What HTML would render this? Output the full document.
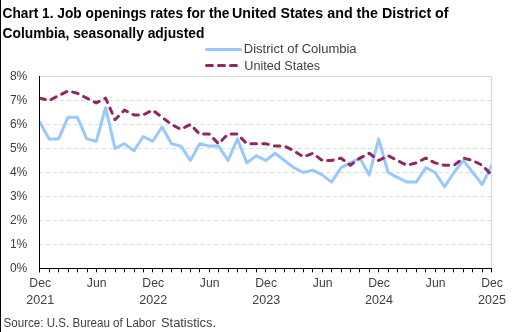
<!DOCTYPE html>
<html><head><meta charset="utf-8"><style>html,body{margin:0;padding:0;background:#fff;width:521px;height:332px;overflow:hidden}</style></head>
<body><svg width="521" height="332" viewBox="0 0 521 332" style="display:block;will-change:transform"><rect x="0" y="0" width="521" height="332" fill="#fff"/><rect x="0" y="0" width="1" height="332" fill="#000"/><line x1="39" y1="244.5" x2="491" y2="244.5" stroke="#dddddd" stroke-width="1" stroke-dasharray="4 3"/><line x1="39" y1="220.5" x2="491" y2="220.5" stroke="#dddddd" stroke-width="1" stroke-dasharray="4 3"/><line x1="39" y1="196.5" x2="491" y2="196.5" stroke="#dddddd" stroke-width="1" stroke-dasharray="4 3"/><line x1="39" y1="172.5" x2="491" y2="172.5" stroke="#dddddd" stroke-width="1" stroke-dasharray="4 3"/><line x1="39" y1="148.5" x2="491" y2="148.5" stroke="#dddddd" stroke-width="1" stroke-dasharray="4 3"/><line x1="39" y1="124.5" x2="491" y2="124.5" stroke="#dddddd" stroke-width="1" stroke-dasharray="4 3"/><line x1="39" y1="100.5" x2="491" y2="100.5" stroke="#dddddd" stroke-width="1" stroke-dasharray="4 3"/><rect x="39" y="76" width="453" height="1" fill="#d9d9d9"/><rect x="491" y="76" width="1" height="193" fill="#d9d9d9"/><defs><clipPath id="pc"><rect x="39.5" y="60" width="452" height="220"/></clipPath></defs><g clip-path="url(#pc)"><polyline points="39.70,122.10 49.12,138.90 58.53,138.90 67.95,117.30 77.36,117.30 86.78,138.90 96.19,141.30 105.61,107.70 115.02,148.50 124.44,143.70 133.85,150.90 143.26,136.50 152.68,141.30 162.09,126.90 171.51,143.70 180.93,146.10 190.34,160.50 199.75,143.70 209.17,146.10 218.58,146.10 228.00,160.50 237.42,138.90 246.83,162.90 256.25,155.70 265.66,160.50 275.07,153.30 284.49,160.50 293.91,167.70 303.32,172.50 312.74,170.10 322.15,174.90 331.56,182.10 340.98,167.70 350.39,162.90 359.81,158.10 369.23,174.90 378.64,138.90 388.06,172.50 397.47,177.30 406.88,182.10 416.30,182.10 425.72,167.70 435.13,172.50 444.55,186.90 453.96,172.50 463.38,160.50 472.79,172.50 482.21,184.50 491.62,165.30" fill="none" stroke="#97c9ff" stroke-width="3" stroke-linejoin="round" stroke-linecap="round"/><polyline points="39.70,98.10 49.12,100.50 58.53,95.70 67.95,90.90 77.36,93.30 86.78,98.10 96.19,102.90 105.61,98.10 115.02,119.70 124.44,110.10 133.85,114.90 143.26,114.90 152.68,110.10 162.09,117.30 171.51,124.50 180.93,129.30 190.34,124.50 199.75,134.10 209.17,134.10 218.58,143.70 228.00,134.10 237.42,134.10 246.83,143.70 256.25,143.70 265.66,143.70 275.07,146.10 284.49,146.10 293.91,150.90 303.32,156.90 312.74,153.30 322.15,160.50 331.56,160.50 340.98,158.10 350.39,165.30 359.81,158.10 369.23,153.30 378.64,160.50 388.06,155.70 397.47,160.50 406.88,165.30 416.30,162.90 425.72,158.10 435.13,162.90 444.55,165.30 453.96,165.30 463.38,158.10 472.79,160.50 482.21,165.30 491.62,174.90" fill="none" stroke="#932761" stroke-width="3" stroke-linejoin="round" stroke-linecap="round" stroke-dasharray="5.6 6.275" stroke-dashoffset="-0.1"/></g><rect x="39" y="76" width="1" height="196.5" fill="#000"/><rect x="39" y="268" width="453" height="1" fill="#000"/><rect x="49" y="268" width="1" height="4.3" fill="#000"/><rect x="58" y="268" width="1" height="4.3" fill="#000"/><rect x="68" y="268" width="1" height="4.3" fill="#000"/><rect x="77" y="268" width="1" height="4.3" fill="#000"/><rect x="87" y="268" width="1" height="4.3" fill="#000"/><rect x="96" y="268" width="1" height="4.3" fill="#000"/><rect x="105" y="268" width="1" height="4.3" fill="#000"/><rect x="115" y="268" width="1" height="4.3" fill="#000"/><rect x="124" y="268" width="1" height="4.3" fill="#000"/><rect x="134" y="268" width="1" height="4.3" fill="#000"/><rect x="143" y="268" width="1" height="4.3" fill="#000"/><rect x="152" y="268" width="1" height="4.3" fill="#000"/><rect x="162" y="268" width="1" height="4.3" fill="#000"/><rect x="171" y="268" width="1" height="4.3" fill="#000"/><rect x="181" y="268" width="1" height="4.3" fill="#000"/><rect x="190" y="268" width="1" height="4.3" fill="#000"/><rect x="199" y="268" width="1" height="4.3" fill="#000"/><rect x="209" y="268" width="1" height="4.3" fill="#000"/><rect x="218" y="268" width="1" height="4.3" fill="#000"/><rect x="228" y="268" width="1" height="4.3" fill="#000"/><rect x="237" y="268" width="1" height="4.3" fill="#000"/><rect x="246" y="268" width="1" height="4.3" fill="#000"/><rect x="256" y="268" width="1" height="4.3" fill="#000"/><rect x="265" y="268" width="1" height="4.3" fill="#000"/><rect x="275" y="268" width="1" height="4.3" fill="#000"/><rect x="284" y="268" width="1" height="4.3" fill="#000"/><rect x="294" y="268" width="1" height="4.3" fill="#000"/><rect x="303" y="268" width="1" height="4.3" fill="#000"/><rect x="312" y="268" width="1" height="4.3" fill="#000"/><rect x="322" y="268" width="1" height="4.3" fill="#000"/><rect x="331" y="268" width="1" height="4.3" fill="#000"/><rect x="341" y="268" width="1" height="4.3" fill="#000"/><rect x="350" y="268" width="1" height="4.3" fill="#000"/><rect x="359" y="268" width="1" height="4.3" fill="#000"/><rect x="369" y="268" width="1" height="4.3" fill="#000"/><rect x="378" y="268" width="1" height="4.3" fill="#000"/><rect x="388" y="268" width="1" height="4.3" fill="#000"/><rect x="397" y="268" width="1" height="4.3" fill="#000"/><rect x="406" y="268" width="1" height="4.3" fill="#000"/><rect x="416" y="268" width="1" height="4.3" fill="#000"/><rect x="425" y="268" width="1" height="4.3" fill="#000"/><rect x="435" y="268" width="1" height="4.3" fill="#000"/><rect x="444" y="268" width="1" height="4.3" fill="#000"/><rect x="453" y="268" width="1" height="4.3" fill="#000"/><rect x="463" y="268" width="1" height="4.3" fill="#000"/><rect x="472" y="268" width="1" height="4.3" fill="#000"/><rect x="482" y="268" width="1" height="4.3" fill="#000"/><rect x="491" y="268" width="1" height="4.3" fill="#000"/><text x="2.5" y="17.8" font-family='"Liberation Sans", sans-serif' font-size="14.6" font-weight="bold" fill="#000" text-anchor="start" textLength="227" lengthAdjust="spacingAndGlyphs">Chart 1. Job openings rates for the</text><text x="232" y="17.8" font-family='"Liberation Sans", sans-serif' font-size="14.6" font-weight="bold" fill="#000" text-anchor="start" textLength="216.6" lengthAdjust="spacingAndGlyphs">United States and the District of</text><text x="2.5" y="37.8" font-family='"Liberation Sans", sans-serif' font-size="14.6" font-weight="bold" fill="#000" text-anchor="start" textLength="202" lengthAdjust="spacingAndGlyphs">Columbia, seasonally adjusted</text><line x1="206.5" y1="49.5" x2="240.5" y2="49.5" stroke="#97c9ff" stroke-width="3" stroke-linecap="round"/><line x1="206.5" y1="65.5" x2="240.5" y2="65.5" stroke="#932761" stroke-width="3" stroke-linecap="round" stroke-dasharray="6 6"/><text x="243.8" y="53.2" font-family='"Liberation Sans", sans-serif' font-size="12" font-weight="normal" fill="#404040" text-anchor="start" textLength="112.8" lengthAdjust="spacingAndGlyphs">District of Columbia</text><text x="244.3" y="70.2" font-family='"Liberation Sans", sans-serif' font-size="12" font-weight="normal" fill="#404040" text-anchor="start" textLength="75.8" lengthAdjust="spacingAndGlyphs">United States</text><text x="27.3" y="271.9" font-family='"Liberation Sans", sans-serif' font-size="12.2" font-weight="normal" fill="#404040" text-anchor="end" textLength="17.4" lengthAdjust="spacingAndGlyphs">0%</text><text x="27.3" y="247.9" font-family='"Liberation Sans", sans-serif' font-size="12.2" font-weight="normal" fill="#404040" text-anchor="end" textLength="17.4" lengthAdjust="spacingAndGlyphs">1%</text><text x="27.3" y="223.9" font-family='"Liberation Sans", sans-serif' font-size="12.2" font-weight="normal" fill="#404040" text-anchor="end" textLength="17.4" lengthAdjust="spacingAndGlyphs">2%</text><text x="27.3" y="199.9" font-family='"Liberation Sans", sans-serif' font-size="12.2" font-weight="normal" fill="#404040" text-anchor="end" textLength="17.4" lengthAdjust="spacingAndGlyphs">3%</text><text x="27.3" y="175.9" font-family='"Liberation Sans", sans-serif' font-size="12.2" font-weight="normal" fill="#404040" text-anchor="end" textLength="17.4" lengthAdjust="spacingAndGlyphs">4%</text><text x="27.3" y="151.9" font-family='"Liberation Sans", sans-serif' font-size="12.2" font-weight="normal" fill="#404040" text-anchor="end" textLength="17.4" lengthAdjust="spacingAndGlyphs">5%</text><text x="27.3" y="127.9" font-family='"Liberation Sans", sans-serif' font-size="12.2" font-weight="normal" fill="#404040" text-anchor="end" textLength="17.4" lengthAdjust="spacingAndGlyphs">6%</text><text x="27.3" y="103.9" font-family='"Liberation Sans", sans-serif' font-size="12.2" font-weight="normal" fill="#404040" text-anchor="end" textLength="17.4" lengthAdjust="spacingAndGlyphs">7%</text><text x="27.3" y="79.9" font-family='"Liberation Sans", sans-serif' font-size="12.2" font-weight="normal" fill="#404040" text-anchor="end" textLength="17.4" lengthAdjust="spacingAndGlyphs">8%</text><text x="40.2" y="286.8" font-family='"Liberation Sans", sans-serif' font-size="12.2" font-weight="normal" fill="#404040" text-anchor="middle">Dec</text><text x="40.2" y="304" font-family='"Liberation Sans", sans-serif' font-size="12.2" font-weight="normal" fill="#404040" text-anchor="middle" textLength="28" lengthAdjust="spacingAndGlyphs">2021</text><text x="96.69" y="286.8" font-family='"Liberation Sans", sans-serif' font-size="12.2" font-weight="normal" fill="#404040" text-anchor="middle">Jun</text><text x="153.18" y="286.8" font-family='"Liberation Sans", sans-serif' font-size="12.2" font-weight="normal" fill="#404040" text-anchor="middle">Dec</text><text x="153.18" y="304" font-family='"Liberation Sans", sans-serif' font-size="12.2" font-weight="normal" fill="#404040" text-anchor="middle" textLength="28" lengthAdjust="spacingAndGlyphs">2022</text><text x="209.67000000000002" y="286.8" font-family='"Liberation Sans", sans-serif' font-size="12.2" font-weight="normal" fill="#404040" text-anchor="middle">Jun</text><text x="266.16" y="286.8" font-family='"Liberation Sans", sans-serif' font-size="12.2" font-weight="normal" fill="#404040" text-anchor="middle">Dec</text><text x="266.16" y="304" font-family='"Liberation Sans", sans-serif' font-size="12.2" font-weight="normal" fill="#404040" text-anchor="middle" textLength="28" lengthAdjust="spacingAndGlyphs">2023</text><text x="322.65" y="286.8" font-family='"Liberation Sans", sans-serif' font-size="12.2" font-weight="normal" fill="#404040" text-anchor="middle">Jun</text><text x="379.14" y="286.8" font-family='"Liberation Sans", sans-serif' font-size="12.2" font-weight="normal" fill="#404040" text-anchor="middle">Dec</text><text x="379.14" y="304" font-family='"Liberation Sans", sans-serif' font-size="12.2" font-weight="normal" fill="#404040" text-anchor="middle" textLength="28" lengthAdjust="spacingAndGlyphs">2024</text><text x="435.63" y="286.8" font-family='"Liberation Sans", sans-serif' font-size="12.2" font-weight="normal" fill="#404040" text-anchor="middle">Jun</text><text x="492.12" y="286.8" font-family='"Liberation Sans", sans-serif' font-size="12.2" font-weight="normal" fill="#404040" text-anchor="middle">Dec</text><text x="492.12" y="304" font-family='"Liberation Sans", sans-serif' font-size="12.2" font-weight="normal" fill="#404040" text-anchor="middle" textLength="28" lengthAdjust="spacingAndGlyphs">2025</text><text x="3.6" y="327.1" font-family='"Liberation Sans", sans-serif' font-size="12" font-weight="normal" fill="#404040" text-anchor="start" textLength="152" lengthAdjust="spacingAndGlyphs">Source: U.S. Bureau of Labor</text><text x="161" y="327.1" font-family='"Liberation Sans", sans-serif' font-size="12" font-weight="normal" fill="#404040" text-anchor="start" textLength="55" lengthAdjust="spacingAndGlyphs">Statistics.</text></svg></body></html>
